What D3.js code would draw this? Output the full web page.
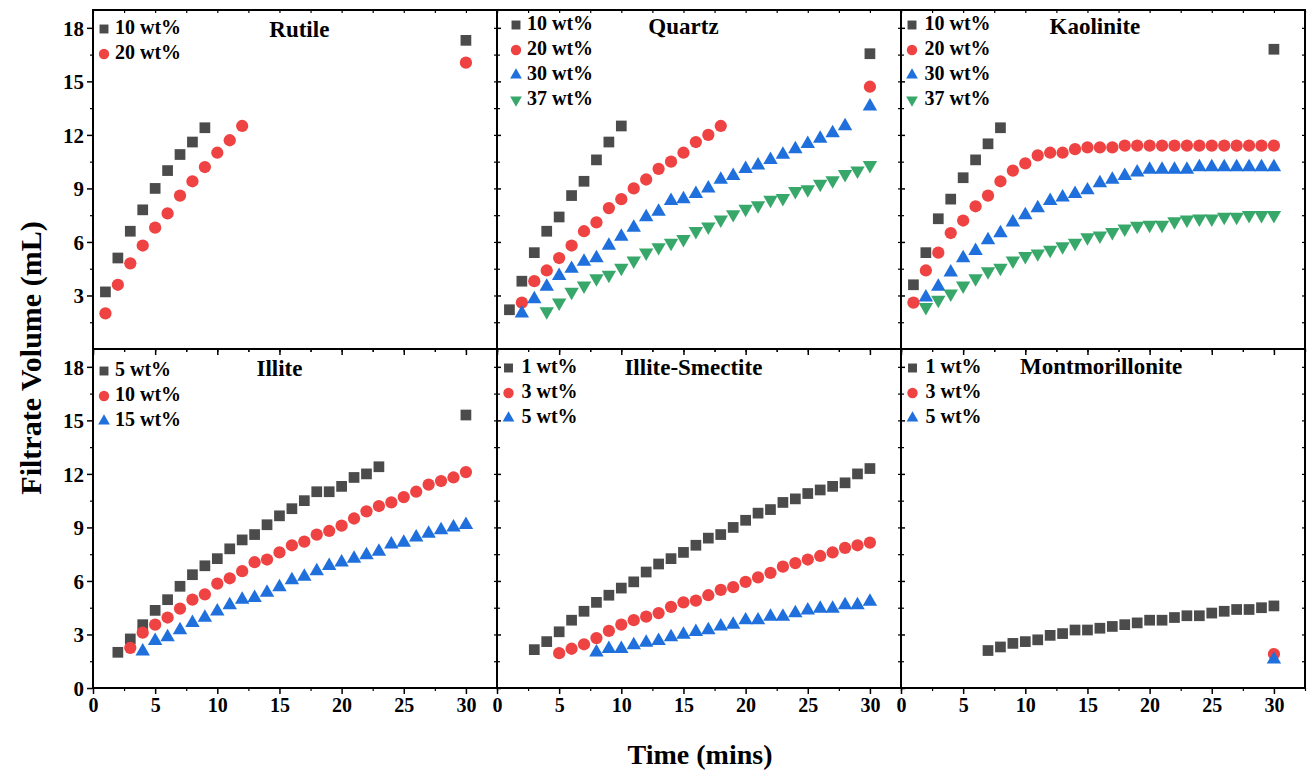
<!DOCTYPE html>
<html><head><meta charset="utf-8">
<script src="https://cdn.jsdelivr.net/npm/d3@7/dist/d3.min.js"></script>
<style>
html,body{margin:0;padding:0;background:#fff;}
svg text{font-family:"Liberation Serif","Times New Roman",Times,"Nimbus Roman","DejaVu Serif",serif !important;font-weight:bold;fill:#000;}
</style></head>
<body><svg id="c" width="1313" height="773" font-family="Liberation Serif, DejaVu Serif, serif"></svg>
<script>
// ---------- DATA ----------
const xTicks = [0,5,10,15,20,25,30];
const yTicks = [0,3,6,9,12,15,18];
const panelTitles = ["Rutile","Quartz","Kaolinite","Illite","Illite-Smectite","Montmorillonite"];

// Rutile
const rutile10T = [1,2,3,4,5,6,7,8,9,30];
const rutile10V = [3.2,5.1,6.6,7.8,9.0,10.0,10.9,11.6,12.4,17.3];
const rutile20T = [1,2,3,4,5,6,7,8,9,10,11,12,30];
const rutile20V = [2.0,3.6,4.8,5.8,6.8,7.6,8.6,9.4,10.2,11.0,11.7,12.5,16.05];

// Quartz
const quartz10T = [1,2,3,4,5,6,7,8,9,10,30];
const quartz10V = [2.2,3.8,5.4,6.6,7.4,8.6,9.4,10.6,11.6,12.5,16.55];
const quartz20T = [2,3,4,5,6,7,8,9,10,11,12,13,14,15,16,17,18,30];
const quartz20V = [2.6,3.8,4.4,5.1,5.8,6.6,7.1,7.9,8.4,9.0,9.5,10.1,10.5,11.0,11.6,12.0,12.5,14.7];
const quartz30T = [2,3,4,5,6,7,8,9,10,11,12,13,14,15,16,17,18,19,20,21,22,23,24,25,26,27,28,30];
const quartz30V = [2.0,2.8,3.5,4.1,4.5,4.9,5.1,5.8,6.3,6.8,7.4,7.7,8.3,8.4,8.7,9.0,9.5,9.7,10.1,10.3,10.6,10.9,11.2,11.5,11.8,12.1,12.5,13.6];
const quartz37T = [4,5,6,7,8,9,10,11,12,13,14,15,16,17,18,19,20,21,22,23,24,25,26,27,28,29,30];
const quartz37V = [2.1,2.6,3.2,3.55,3.95,4.15,4.55,4.95,5.4,5.7,5.95,6.15,6.6,6.85,7.25,7.55,7.85,8.05,8.35,8.45,8.85,8.95,9.25,9.45,9.8,10.0,10.3];

// Kaolinite
const kaol10T = [1,2,3,4,5,6,7,8,30];
const kaol10V = [3.6,5.4,7.3,8.4,9.6,10.6,11.5,12.4,16.8];
const kaol20T = [1,2,3,4,5,6,7,8,9,10,11,12,13,14,15,16,17,18,19,20,21,22,23,24,25,26,27,28,29,30];
const kaol20V = [2.6,4.4,5.4,6.5,7.2,8.0,8.6,9.4,10.0,10.4,10.85,11.0,11.0,11.2,11.3,11.3,11.3,11.4,11.4,11.4,11.4,11.4,11.4,11.4,11.4,11.4,11.4,11.4,11.4,11.4];
const kaol30T = [2,3,4,5,6,7,8,9,10,11,12,13,14,15,16,17,18,19,20,21,22,23,24,25,26,27,28,29,30];
const kaol30V = [2.9,3.5,4.3,5.1,5.5,6.1,6.5,7.1,7.5,7.9,8.3,8.5,8.7,8.9,9.3,9.5,9.7,9.9,10.05,10.05,10.05,10.05,10.2,10.2,10.2,10.2,10.2,10.2,10.2];
const kaol37T = [2,3,4,5,6,7,8,9,10,11,12,13,14,15,16,17,18,19,20,21,22,23,24,25,26,27,28,29,30];
const kaol37V = [2.35,2.75,3.1,3.55,3.95,4.35,4.55,4.95,5.2,5.35,5.55,5.75,5.95,6.25,6.35,6.55,6.75,6.9,6.95,6.95,7.15,7.25,7.3,7.3,7.4,7.4,7.5,7.5,7.5];

// Illite
const illite5T = [2,3,4,5,6,7,8,9,10,11,12,13,14,15,16,17,18,19,20,21,22,23,30];
const illite5V = [2.0,2.75,3.55,4.35,4.95,5.7,6.35,6.85,7.25,7.8,8.3,8.6,9.15,9.65,10.05,10.5,11.0,11.0,11.3,11.8,12.0,12.4,15.3];
const illite10T = [3,4,5,6,7,8,9,10,11,12,13,14,15,16,17,18,19,20,21,22,23,24,25,26,27,28,29,30];
const illite10V = [2.25,3.1,3.55,3.95,4.45,4.95,5.25,5.85,6.15,6.55,7.05,7.2,7.6,8.0,8.2,8.6,8.8,9.1,9.5,9.9,10.2,10.4,10.7,11.0,11.4,11.6,11.8,12.1];
const illite15T = [4,5,6,7,8,9,10,11,12,13,14,15,16,17,18,19,20,21,22,23,24,25,26,27,28,29,30];
const illite15V = [2.05,2.65,2.85,3.25,3.65,3.95,4.3,4.65,4.95,5.05,5.35,5.65,6.05,6.25,6.55,6.85,7.05,7.25,7.45,7.65,8.05,8.15,8.45,8.65,8.85,9.0,9.15];

// Illite-Smectite
const is1T = [3,4,5,6,7,8,9,10,11,12,13,14,15,16,17,18,19,20,21,22,23,24,25,26,27,28,29,30];
const is1V = [2.15,2.6,3.15,3.8,4.3,4.8,5.2,5.6,5.95,6.5,6.95,7.25,7.6,8.0,8.4,8.6,9.0,9.4,9.8,10.0,10.4,10.6,10.9,11.1,11.3,11.5,12.0,12.3];
const is3T = [5,6,7,8,9,10,11,12,13,14,15,16,17,18,19,20,21,22,23,24,25,26,27,28,29,30];
const is3V = [1.95,2.2,2.45,2.8,3.2,3.55,3.8,4.0,4.2,4.55,4.8,4.9,5.2,5.5,5.65,5.95,6.2,6.45,6.8,7.0,7.2,7.4,7.6,7.85,8.0,8.15];
const is5T = [8,9,10,11,12,13,14,15,16,17,18,19,20,21,22,23,24,25,26,27,28,29,30];
const is5V = [2.0,2.2,2.2,2.4,2.55,2.65,2.85,3.0,3.15,3.25,3.45,3.55,3.8,3.8,4.0,4.0,4.2,4.35,4.45,4.45,4.65,4.65,4.85];

// Montmorillonite
const mont1T = [7,8,9,10,11,12,13,14,15,16,17,18,19,20,21,22,23,24,25,26,27,28,29,30];
const mont1V = [2.1,2.3,2.5,2.6,2.7,2.95,3.05,3.25,3.25,3.35,3.45,3.55,3.65,3.8,3.8,3.95,4.05,4.05,4.2,4.3,4.4,4.4,4.5,4.6];
const mont3T = [30];
const mont3V = [1.9];
const mont5T = [30];
const mont5V = [1.6];

// ---------- STYLE / LAYOUT ----------
const markerStyle = {
  square:{type:d3.symbolSquare, size:115, legSize:80, fill:"#4b4b4b", rot:0},
  circle:{type:d3.symbolCircle, size:118, legSize:85, fill:"#ef4242", rot:0},
  tri:{type:d3.symbolTriangle, size:90, legSize:60, fill:"#1f6fdd", rot:0},
  itri:{type:d3.symbolTriangle, size:90, legSize:60, fill:"#38a86a", rot:180}
};
const panels = [
  {title:panelTitles[0], titleX:16.6, titleY:37, legX:11, legTX:22, legY0:28, series:[
    {label:"10 wt%", m:"square", t:rutile10T, v:rutile10V},
    {label:"20 wt%", m:"circle", t:rutile20T, v:rutile20V}]},
  {title:panelTitles[1], titleX:15.0, titleY:34, legX:19, legTX:30, legY0:24, series:[
    {label:"10 wt%", m:"square", t:quartz10T, v:quartz10V},
    {label:"20 wt%", m:"circle", t:quartz20T, v:quartz20V},
    {label:"30 wt%", m:"tri", t:quartz30T, v:quartz30V},
    {label:"37 wt%", m:"itri", t:quartz37T, v:quartz37V}]},
  {title:panelTitles[2], titleX:15.6, titleY:34, legX:11, legTX:23.5, legY0:24, series:[
    {label:"10 wt%", m:"square", t:kaol10T, v:kaol10V},
    {label:"20 wt%", m:"circle", t:kaol20T, v:kaol20V},
    {label:"30 wt%", m:"tri", t:kaol30T, v:kaol30V},
    {label:"37 wt%", m:"itri", t:kaol37T, v:kaol37V}]},
  {title:panelTitles[3], titleX:15.0, titleY:376, legX:11, legTX:22, legY0:370, series:[
    {label:"5 wt%", m:"square", t:illite5T, v:illite5V},
    {label:"10 wt%", m:"circle", t:illite10T, v:illite10V},
    {label:"15 wt%", m:"tri", t:illite15T, v:illite15V}]},
  {title:panelTitles[4], titleX:15.8, titleY:375, legX:11.5, legTX:24.5, legY0:367, series:[
    {label:"1 wt%", m:"square", t:is1T, v:is1V},
    {label:"3 wt%", m:"circle", t:is3T, v:is3V},
    {label:"5 wt%", m:"tri", t:is5T, v:is5V}]},
  {title:panelTitles[5], titleX:16.1, titleY:374, legX:11.5, legTX:24.5, legY0:367, series:[
    {label:"1 wt%", m:"square", t:mont1T, v:mont1V},
    {label:"3 wt%", m:"circle", t:mont3T, v:mont3V},
    {label:"5 wt%", m:"tri", t:mont5T, v:mont5V}]}
];

const FONT = "'Liberation Serif', 'Times New Roman', Times, 'DejaVu Serif', serif";
const colLeft = [93, 497, 901], colW = 404;
const rowTop = [10, 349], rowH = 339;
const svg = d3.select("#c");

function styleAxis(sel, sw) {
  sel.attr("font-family", FONT);
  sel.select(".domain").remove();
  sel.selectAll("line").attr("stroke", "#000").attr("stroke-width", sw);
}

panels.forEach((p, i) => {
  const col = i % 3, row = Math.floor(i / 3);
  const x0 = colLeft[col], y0 = rowTop[row];
  const x = d3.scaleLinear().domain([0, 32.5]).range([x0, x0 + colW]);
  const y = d3.scaleLinear().domain([0, 19]).range([y0 + rowH, y0]);
  const g = svg.append("g");

  // bottom major ticks (outward) + labels
  const bAx = g.append("g").attr("transform", `translate(0,${y0 + rowH})`)
    .call(d3.axisBottom(x).tickValues(xTicks).tickSize(6).tickSizeOuter(0)
      .tickFormat(row === 1 ? d3.format("d") : ""));
  styleAxis(bAx, 1.5);
  bAx.selectAll("text").attr("font-size", 20).attr("dy", "0.95em").attr("y", 5);
  const bMin = g.append("g").attr("transform", `translate(0,${y0 + rowH})`)
    .call(d3.axisBottom(x).tickValues([2.5,7.5,12.5,17.5,22.5,27.5,32.5]).tickSize(3).tickSizeOuter(0).tickFormat(""));
  styleAxis(bMin, 1.2);

  // top mirror ticks (inward)
  const tAx = g.append("g").attr("transform", `translate(0,${y0})`)
    .call(d3.axisBottom(x).tickValues(d3.range(0, 32.6, 2.5)).tickSize(3).tickSizeOuter(0).tickFormat(""));
  styleAxis(tAx, 1.2);

  // left axis
  const yTk = row === 0 ? yTicks.filter(d => d > 0) : yTicks;
  const lAx = g.append("g").attr("transform", `translate(${x0},0)`)
    .call(d3.axisLeft(y).tickValues(yTk).tickSize(col === 0 ? 6 : -4).tickSizeOuter(0)
      .tickFormat(col === 0 ? d3.format("d") : ""));
  styleAxis(lAx, 1.5);
  lAx.selectAll("text").attr("font-size", 21).attr("x", -9).attr("dy", "0.35em");
  const lMin = g.append("g").attr("transform", `translate(${x0},0)`)
    .call(d3.axisLeft(y).tickValues([1.5,4.5,7.5,10.5,13.5,16.5]).tickSize(col === 0 ? 3 : -3).tickSizeOuter(0).tickFormat(""));
  styleAxis(lMin, 1.2);

  // right mirror ticks
  const rAx = g.append("g").attr("transform", `translate(${x0 + colW},0)`)
    .call(d3.axisLeft(y).tickValues(d3.range(1.5, 19, 1.5)).tickSize(3).tickSizeOuter(0).tickFormat(""));
  styleAxis(rAx, 1.2);

  // frame
  g.append("rect").attr("x", x0).attr("y", y0).attr("width", colW).attr("height", rowH)
    .attr("fill", "none").attr("stroke", "#000").attr("stroke-width", 2);

  // data
  p.series.forEach(s => {
    const st = markerStyle[s.m];
    const sym = d3.symbol().type(st.type).size(st.size);
    g.append("g").selectAll("path").data(s.t.map((t, k) => [t, s.v[k]])).join("path")
      .attr("d", sym)
      .attr("transform", d => `translate(${x(d[0])},${y(d[1])}) rotate(${st.rot})`)
      .attr("fill", st.fill);
  });

  // title
  g.append("text").attr("x", x(p.titleX)).attr("y", p.titleY).attr("text-anchor", "middle")
    .attr("font-family", FONT).attr("font-size", 23).text(p.title);

  // legend
  p.series.forEach((s, k) => {
    const st = markerStyle[s.m];
    const ly = p.legY0 + k * 25;
    g.append("path").attr("d", d3.symbol().type(st.type).size(st.legSize))
      .attr("transform", `translate(${x0 + p.legX},${ly + 1}) rotate(${st.rot})`)
      .attr("fill", st.fill);
    g.append("text").attr("x", x0 + p.legTX).attr("y", ly + 6).attr("font-family", FONT)
      .attr("font-size", 20).text(s.label);
  });
});

// axis titles
svg.append("text").attr("transform", "translate(41,358) rotate(-90)").attr("text-anchor", "middle")
  .attr("font-family", FONT).attr("font-size", 30).text("Filtrate Volume (mL)");
svg.append("text").attr("x", 700).attr("y", 764).attr("text-anchor", "middle")
  .attr("font-family", FONT).attr("font-size", 28).text("Time (mins)");
</script></body></html>
